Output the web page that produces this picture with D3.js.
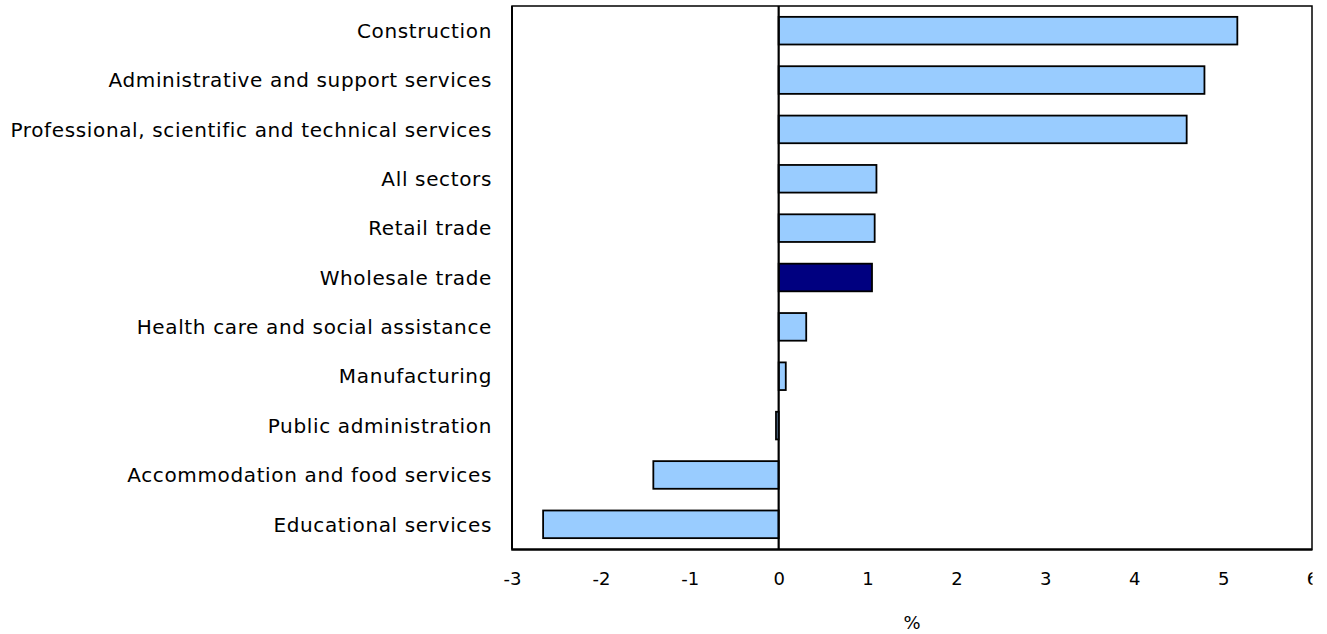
<!DOCTYPE html>
<html>
<head>
<meta charset="utf-8">
<script src="https://cdn.jsdelivr.net/npm/d3@7"></script>
<style>
  html, body { margin: 0; padding: 0; background: #fff; }
  svg { display: block; }
  text { font-family: "DejaVu Sans", Verdana, sans-serif; fill: #000; }
</style>
</head>
<body>
<svg id="chart" width="1327" height="634"></svg>
<script>
const categories = [
  "Construction",
  "Administrative and support services",
  "Professional, scientific and technical services",
  "All sectors",
  "Retail trade",
  "Wholesale trade",
  "Health care and social assistance",
  "Manufacturing",
  "Public administration",
  "Accommodation and food services",
  "Educational services"
];
const values = [5.16, 4.79, 4.59, 1.10, 1.08, 1.05, 0.31, 0.08, -0.03, -1.41, -2.65];
const highlighted = ["Wholesale trade"];
const xTicks = [-3, -2, -1, 0, 1, 2, 3, 4, 5, 6];
const xTitle = "%";

const svg = d3.select("#chart");
const margin = {left: 512, right: 15, top: 6, bottom: 85};
const W = 1327, H = 634;
const x = d3.scaleLinear().domain([-3, 6]).range([margin.left, W - margin.right]);
const y = d3.scaleBand().domain(categories).range([margin.top, H - margin.bottom]).paddingInner(0.44).paddingOuter(0.22);

svg.append("defs").append("clipPath").attr("id", "clipR")
  .append("rect").attr("x", 0).attr("y", 0).attr("width", x(6) + 0.5).attr("height", H);

// frame
svg.append("rect")
  .attr("x", x(-3)).attr("y", margin.top)
  .attr("width", x(6) - x(-3)).attr("height", H - margin.bottom - margin.top)
  .attr("fill", "none").attr("stroke", "#000").attr("stroke-width", 1.5);

// bars
svg.append("g").selectAll("rect").data(categories).join("rect")
  .attr("x", (d, i) => x(Math.min(0, values[i])))
  .attr("y", d => y(d))
  .attr("width", (d, i) => Math.abs(x(values[i]) - x(0)))
  .attr("height", y.bandwidth())
  .attr("fill", d => highlighted.includes(d) ? "#000080" : "#99CCFF")
  .attr("stroke", "#000").attr("stroke-width", 1.8);

// zero line
svg.append("line")
  .attr("x1", x(0)).attr("x2", x(0))
  .attr("y1", margin.top).attr("y2", H - margin.bottom)
  .attr("stroke", "#000").attr("stroke-width", 2.2);

// left border
svg.append("line").attr("x1", x(-3)).attr("x2", x(-3))
  .attr("y1", margin.top).attr("y2", H - margin.bottom)
  .attr("stroke", "#000").attr("stroke-width", 2);

// x axis
const xAxis = d3.axisBottom(x).tickValues(xTicks).tickSize(-7).tickPadding(0).tickFormat(d3.format("d"));
const gx = svg.append("g").attr("transform", `translate(0,${H - margin.bottom})`)
  .attr("clip-path", "url(#clipR)").call(xAxis);
gx.select(".domain").attr("stroke", "#000").attr("stroke-width", 2.5);
gx.selectAll(".tick line").attr("stroke", "#000").attr("stroke-width", 2);
gx.selectAll(".tick text").attr("y", 36).attr("dy", 0)
  .style("font-size", "18px").style("font-family", "DejaVu Sans, Verdana, sans-serif").attr("fill", "#000")
  .text(d => d < 0 ? "-" + Math.abs(d) : d);

// category labels
svg.append("g").selectAll("text").data(categories).join("text")
  .attr("x", x(-3) - 20)
  .attr("y", d => y(d) + y.bandwidth() / 2)
  .attr("dy", "0.36em")
  .attr("text-anchor", "end")
  .style("font-size", "20px")
  .style("letter-spacing", "0.64px")
  .text(d => d);

// x title
svg.append("text")
  .attr("x", (x(-3) + x(6)) / 2).attr("y", 629)
  .attr("text-anchor", "middle")
  .style("font-size", "18px")
  .text(xTitle);
</script>
</body>
</html>
